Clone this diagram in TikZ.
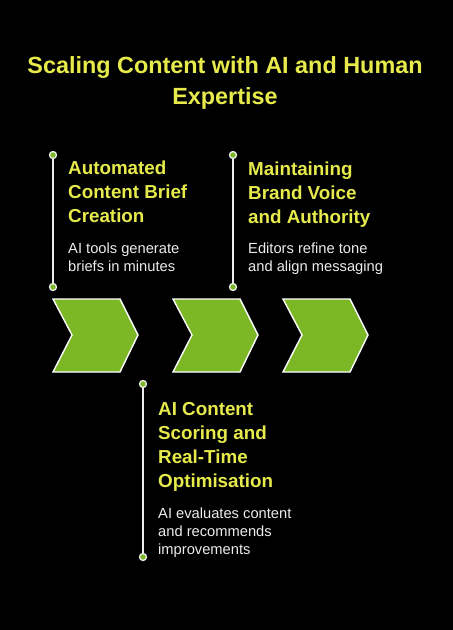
\documentclass[tikz,border=0pt]{standalone}
\usepackage{fontspec}
\setmainfont{Liberation Sans}
\definecolor{leaf}{RGB}{124,184,37}
\definecolor{lemon}{RGB}{230,235,75}
\definecolor{paper}{RGB}{236,236,236}
\tikzset{
  chev/.style={fill=leaf,draw=white,line width=1.4pt,line join=miter},
  stem/.style={draw=paper,line width=1.4pt},
  dot/.style={circle,fill=leaf,draw=paper,line width=1.3pt,minimum size=7pt,inner sep=0pt},
  head/.style={anchor=base west,inner sep=0pt,align=left,text=lemon,font=\fontsize{18.8}{24}\selectfont\bfseries},
  body/.style={anchor=base west,inner sep=0pt,align=left,text=paper,font=\fontsize{14.7}{17.8}\selectfont}
}
\begin{document}
\begin{tikzpicture}[x=1pt,y=-1pt]
  \fill[black] (0,0) rectangle (453,630);
  \useasboundingbox (0,0) rectangle (453,630);
  % title (base = last line)
  \node[text=lemon,font=\fontsize{23.4}{31}\selectfont\bfseries,align=center,anchor=base,inner sep=0pt]
    (title) at (225,104) {Scaling Content with AI and Human\\Expertise};
  % chevrons
  \foreach \x/\n in {53/c1,173/c2,283/c3}{
    \draw[chev] (\x,299) -- ++(67,0) -- ++(18,36) -- ++(-18,37) -- ++(-67,0) -- ++(19,-37) -- cycle;
  }
  % stems with dots
  \node[dot] (d1t) at (53,155) {};
  \node[dot] (d1b) at (53,287) {};
  \node[dot] (d2t) at (233,155) {};
  \node[dot] (d2b) at (233,287) {};
  \node[dot] (d3t) at (143,384) {};
  \node[dot] (d3b) at (143,557) {};
  \draw[stem] (d1t) -- (d1b);
  \draw[stem] (d2t) -- (d2b);
  \draw[stem] (d3t) -- (d3b);
  % labels (anchored at the baseline of the last line)
  \node[head] (h1) at (68,222) {Automated\\Content Brief\\Creation};
  \node[body] (b1) at (68,271) {AI tools generate\\briefs in minutes};
  \node[head] (h2) at (248,223) {Maintaining\\Brand Voice\\and Authority};
  \node[body] (b2) at (248,271) {Editors refine tone\\and align messaging};
  \node[head] (h3) at (158,487) {AI Content\\Scoring and\\Real-Time\\Optimisation};
  \node[body] (b3) at (158,554) {AI evaluates content\\and recommends\\improvements};
\end{tikzpicture}
\end{document}
